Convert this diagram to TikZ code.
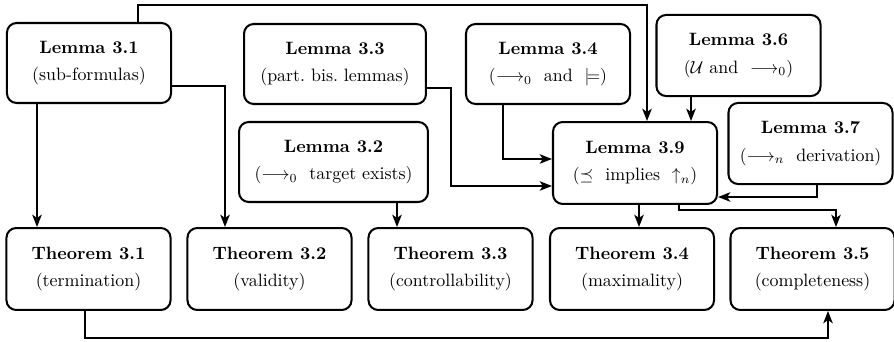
\documentclass[tikz,border=0pt]{standalone}
\usepackage{amsmath,amssymb}
\usetikzlibrary{calc,arrows.meta}
\begin{document}
\begin{tikzpicture}[x=0.57pt, y=-0.57pt,
  box/.style={draw, rounded corners=5.5pt, line width=1.15pt, align=center,
    minimum width=93.5pt, minimum height=45.6pt, inner sep=2pt,
    font=\fontsize{10.2pt}{12.3pt}\selectfont},
  thm/.style={box, minimum height=46.7pt},
  arr/.style={line width=1.05pt, -{Stealth[length=7pt, width=5.4pt, inset=1.8pt]}}]
\useasboundingbox (0,0) rectangle (894,342);

% lemmas
\node[box] (L31) at (89,63) {\textbf{Lemma 3.1}\\[3.5pt](sub-formulas)};
\node[box, minimum width=103.7pt] (L33) at (335,64) {\textbf{Lemma 3.3}\\[3.5pt](part.\ bis.\ lemmas)};
\node[box] (L34) at (548,64) {\textbf{Lemma 3.4}\\[3.5pt]$(\longrightarrow_0$~~and~~$\models)$};
\node[box, minimum height=46.2pt] (L36) at (738.5,55.5) {\textbf{Lemma 3.6}\\[3.5pt]$(\mathcal{U}$ and ~$\longrightarrow_0)$};
\node[box, minimum height=46.2pt] (L37) at (810.5,143.5) {\textbf{Lemma 3.7}\\[3.5pt]$(\longrightarrow_n$~~derivation$)$};
\node[box, minimum height=46.7pt] (L39) at (635,163) {\textbf{Lemma 3.9}\\[3.5pt]$(\preceq$~~implies~~$\uparrow_n)$};
\node[box, minimum width=107.7pt] (L32) at (333.5,162) {\textbf{Lemma 3.2}\\[3.5pt]$(\longrightarrow_0$~~target exists$)$};

% theorems
\node[thm] (T31) at (88.5,269) {\textbf{Theorem 3.1}\\[3.5pt](termination)};
\node[thm] (T32) at (269.5,269) {\textbf{Theorem 3.2}\\[3.5pt](validity)};
\node[thm] (T33) at (450.5,269) {\textbf{Theorem 3.3}\\[3.5pt](controllability)};
\node[thm] (T34) at (632,269) {\textbf{Theorem 3.4}\\[3.5pt](maximality)};
\node[thm] (T35) at (812.5,269) {\textbf{Theorem 3.5}\\[3.5pt](completeness)};

% dependencies
\draw[arr] ($(L31.south)+(-52,0)$) coordinate (a1) -- (a1 |- T31.north);
\draw[arr] ($(L31.east)+(0,23)$) -| ($(T32.north)+(-44.5,0)$);
\draw[arr] ($(L31.north)+(49,0)$) -- ++(0,-17) -| ($(L39.north)+(12,0)$);
\draw[arr] ($(L33.east)+(0,24)$) -- ++(24,0) |- ($(L39.west)+(0,23)$);
\draw[arr] ($(L34.south)+(-45,0)$) |- ($(L39.west)+(0,-4)$);
\draw[arr] ($(L36.south)+(-47.5,0)$) coordinate (a6) -- (a6 |- L39.north);
\draw[arr] ($(L37.south)+(6.5,0)$) |- ($(L39.east)+(0,34)$);
\draw[arr] ($(L32.south)+(63.5,0)$) coordinate (a8) -- (a8 |- T33.north);
\draw[arr] ($(L39.south)+(4,0)$) coordinate (a9) -- (a9 |- T34.north);
\draw[arr] ($(L39.south)+(44,0)$) -- ++(0,5) -| ($(T35.north)+(23.5,0)$);
\draw[arr] ($(T31.south)+(-3.5,0)$) -- ++(0,27) -| ($(T35.south)+(15.5,0)$);
\end{tikzpicture}
\end{document}
